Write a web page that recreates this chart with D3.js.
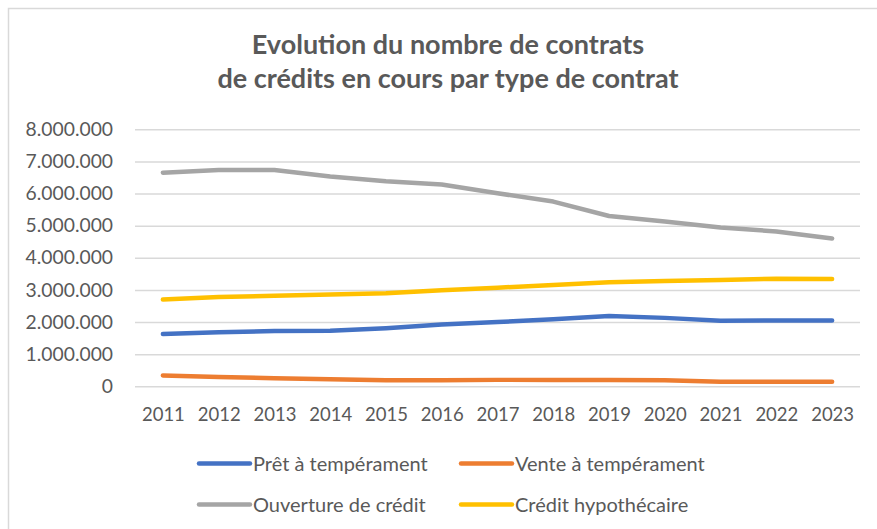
<!DOCTYPE html>
<html>
<head>
<meta charset="utf-8">
<script src="https://cdn.jsdelivr.net/npm/d3@7"></script>
<style>
  body { margin: 0; background: #fff; }
  svg { display: block; }
</style>
</head>
<body>
<div id="chart"></div>
<script>
// data
var years = ["2011","2012","2013","2014","2015","2016","2017","2018","2019","2020","2021","2022","2023"];
var pretTemperament = [1630000,1680000,1720000,1730000,1810000,1920000,2000000,2090000,2190000,2130000,2040000,2050000,2050000];
var venteTemperament = [340000,290000,250000,220000,190000,190000,200000,200000,200000,190000,140000,140000,140000];
var ouvertureCredit = [6650000,6730000,6730000,6530000,6380000,6280000,6010000,5750000,5300000,5130000,4940000,4820000,4600000];
var creditHypothecaire = [2700000,2780000,2820000,2860000,2900000,2990000,3070000,3150000,3240000,3280000,3310000,3350000,3340000];
var seriesNames = ["Prêt à tempérament","Vente à tempérament","Ouverture de crédit","Crédit hypothécaire"];
var seriesColors = ["#4472C4","#ED7D31","#A5A5A5","#FFC000"];
var yTicks = [0,1000000,2000000,3000000,4000000,5000000,6000000,7000000,8000000];
var titleLines = ["Evolution du nombre de contrats","de crédits en cours par type de contrat"];

(function() {
  var W = 877, H = 529;
  var margin = { top: 129.3, left: 135, right: 17, bottom: 142.7 };
  var width = W - margin.left - margin.right,
      height = H - margin.top - margin.bottom;

  var series = [pretTemperament, venteTemperament, ouvertureCredit, creditHypothecaire];
  var textColor = "#595959";

  var svg = d3.select("#chart")
    .append("svg")
    .attr("width", W)
    .attr("height", H);

  // chart area border
  svg.append("rect")
    .attr("x", 8.5).attr("y", 8.5)
    .attr("width", W + 10).attr("height", H + 10)
    .attr("fill", "#fff")
    .attr("stroke", "#D9D9D9")
    .attr("stroke-width", 1.5);

  // title
  svg.append("g").selectAll("text")
    .data(titleLines)
    .enter()
    .append("text")
    .attr("x", 448)
    .attr("y", function(d, i) { return 54 + i * 34; })
    .attr("text-anchor", "middle")
    .attr("fill", textColor)
    .style("font-family", "Lato, 'Open Sans', sans-serif")
    .style("font-weight", "bold")
    .style("font-size", "27px")
    .text(function(d) { return d; });

  var g = svg.append("g")
    .attr("transform", "translate(" + margin.left + "," + margin.top + ")");

  var xPositionScale = d3.scalePoint().domain(years).range([0, width]).padding(0.5);
  var yPositionScale = d3.scaleLinear().domain([0, 8000000]).range([height, 0]);

  var locale = d3.formatLocale({ decimal: ",", thousands: ".", grouping: [3], currency: ["", " €"] });
  var fmt = locale.format(",");

  // gridlines + y labels
  var yAxis = d3.axisLeft(yPositionScale)
    .tickValues(yTicks)
    .tickSize(-width)
    .tickPadding(22)
    .tickFormat(function(d) { return fmt(d); });

  var yg = g.append("g")
    .attr("class", "axis y-axis")
    .call(yAxis);
  yg.select(".domain").remove();
  yg.selectAll(".tick line")
    .attr("stroke", "#D9D9D9")
    .attr("stroke-width", 1.5);
  yg.selectAll(".tick text")
    .attr("fill", textColor)
    .style("font-family", "Lato, sans-serif")
    .style("font-size", "19.3px");

  // x labels
  var xAxis = d3.axisBottom(xPositionScale).tickSize(0).tickPadding(22);
  var xg = g.append("g")
    .attr("class", "axis x-axis")
    .attr("transform", "translate(0," + height + ")")
    .call(xAxis);
  xg.select(".domain").remove();
  xg.selectAll(".tick text")
    .attr("fill", textColor)
    .style("font-family", "Lato, sans-serif")
    .style("font-size", "18.5px");

  // lines
  var line = d3.line()
    .x(function(d, i) { return xPositionScale(years[i]); })
    .y(function(d) { return yPositionScale(d); });

  g.selectAll(".series-line")
    .data(series)
    .enter()
    .append("path")
    .attr("class", "series-line")
    .attr("d", line)
    .attr("fill", "none")
    .attr("stroke", function(d, i) { return seriesColors[i]; })
    .attr("stroke-width", 4.5)
    .attr("stroke-linecap", "round")
    .attr("stroke-linejoin", "round");

  // legend, 2 x 2
  var legend = svg.append("g").attr("class", "legend");
  var items = legend.selectAll(".item")
    .data(seriesNames)
    .enter()
    .append("g")
    .attr("class", "item")
    .attr("transform", function(d, i) {
      return "translate(" + (199 + (i % 2) * 262) + "," + (463.5 + Math.floor(i / 2) * 41) + ")";
    });

  items.append("line")
    .attr("x1", 0).attr("x2", 51)
    .attr("y1", 0).attr("y2", 0)
    .attr("stroke", function(d, i) { return seriesColors[i]; })
    .attr("stroke-width", 4.5)
    .attr("stroke-linecap", "round");

  items.append("text")
    .attr("x", 54)
    .attr("y", 7)
    .attr("fill", textColor)
    .style("font-family", "Lato, sans-serif")
    .style("font-size", "20px")
    .text(function(d) { return d; });
})();
</script>
</body>
</html>
